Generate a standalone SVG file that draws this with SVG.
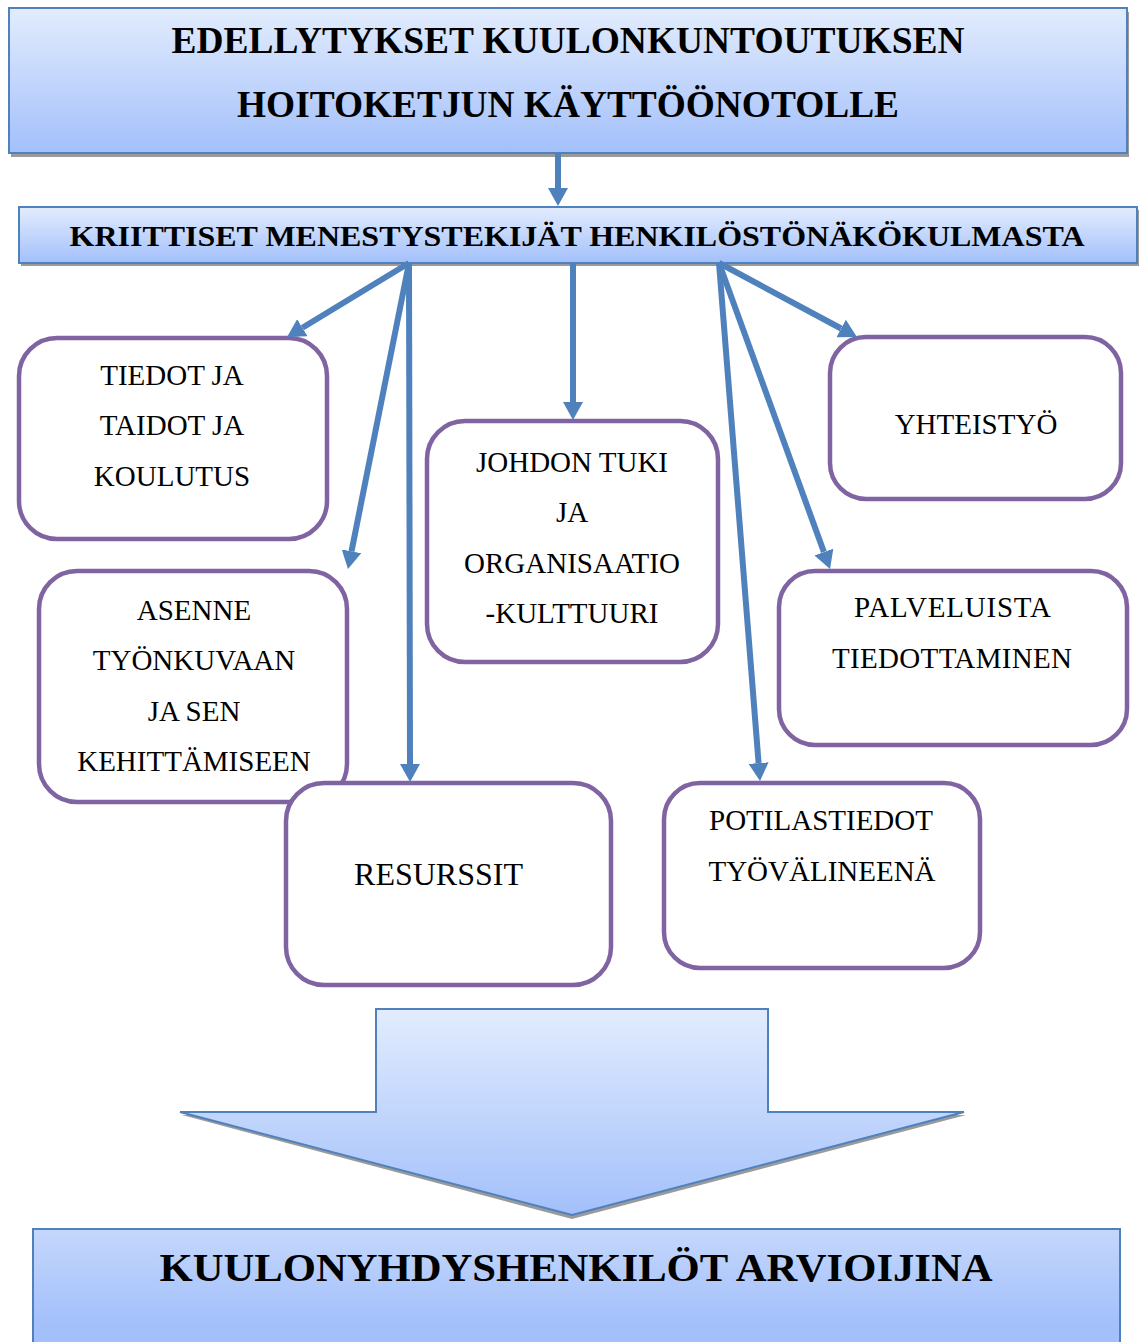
<svg xmlns="http://www.w3.org/2000/svg" width="1139" height="1342" viewBox="0 0 1139 1342">
<defs>
<linearGradient id="gb" x1="0" y1="0" x2="0" y2="1">
<stop offset="0" stop-color="#e2ecfd"/>
<stop offset="1" stop-color="#a3c0fb"/>
</linearGradient>
<linearGradient id="gbot" x1="0" y1="0" x2="0" y2="1">
<stop offset="0" stop-color="#c4d7fc"/>
<stop offset="0.6" stop-color="#a3c0fb"/>
<stop offset="1" stop-color="#a3c0fb"/>
</linearGradient>
<marker id="ah" viewBox="0 -10 18 20" markerWidth="18" markerHeight="20" refX="0" refY="0" orient="auto" markerUnits="userSpaceOnUse">
<path d="M0,-10 L18,0 L0,10 z" fill="#4f81bd"/>
</marker>
<style>
.hdr{fill:url(#gb);stroke:#4f81bd;stroke-width:2}
.shadow{fill:#9a9a9a}
.node{fill:#ffffff;stroke:#8064a2;stroke-width:4.5}
.ht{font-family:"Liberation Serif","Times New Roman",serif;font-weight:bold;fill:#000;text-anchor:middle}
.nt{font-family:"Liberation Serif","Times New Roman",serif;font-size:29px;fill:#000;text-anchor:middle}
.big{font-size:32px}
.con{fill:none;stroke:#4f81bd;stroke-width:6;marker-end:url(#ah)}
</style>
</defs>
<rect width="1139" height="1342" fill="#ffffff"/>

<g id="title">
<rect class="shadow" x="11" y="12" width="1118" height="145"/>
<rect class="hdr" x="9" y="8" width="1118" height="145"/>
<text class="ht" x="568" y="53" font-size="38" textLength="793" lengthAdjust="spacingAndGlyphs">EDELLYTYKSET KUULONKUNTOUTUKSEN</text>
<text class="ht" x="568" y="117" font-size="38" textLength="662" lengthAdjust="spacingAndGlyphs">HOITOKETJUN KÄYTTÖÖNOTOLLE</text>
</g>

<g id="critical">
<rect class="shadow" x="21" y="210" width="1118" height="56"/>
<rect class="hdr" x="19" y="207" width="1118" height="56"/>
<text class="ht" x="577" y="246" font-size="29" textLength="1015" lengthAdjust="spacingAndGlyphs">KRIITTISET MENESTYSTEKIJÄT HENKILÖSTÖNÄKÖKULMASTA</text>
</g>

<g id="n-tiedot">
<rect class="node" x="19" y="338" width="308" height="201" rx="38"/>
<text class="nt" x="172" y="385">TIEDOT JA</text>
<text class="nt" x="172" y="435">TAIDOT JA</text>
<text class="nt" x="172" y="486">KOULUTUS</text>
</g>

<g id="n-asenne">
<rect class="node" x="39" y="571" width="308" height="231" rx="38"/>
<text class="nt" x="194" y="620">ASENNE</text>
<text class="nt" x="194" y="670">TYÖNKUVAAN</text>
<text class="nt" x="194" y="721">JA SEN</text>
<text class="nt" x="194" y="771">KEHITTÄMISEEN</text>
</g>

<g id="n-resurssit">
<rect class="node" x="286" y="783" width="325" height="202" rx="38"/>
<text class="nt big" x="438.5" y="885">RESURSSIT</text>
</g>

<g id="n-johdon">
<rect class="node" x="427" y="421" width="291" height="241" rx="38"/>
<text class="nt" x="572" y="472">JOHDON TUKI</text>
<text class="nt" x="572" y="522">JA</text>
<text class="nt" x="572" y="573">ORGANISAATIO</text>
<text class="nt" x="572" y="623">-KULTTUURI</text>
</g>

<g id="n-yhteistyo">
<rect class="node" x="830" y="337" width="291" height="162" rx="36"/>
<text class="nt" x="976" y="434">YHTEISTYÖ</text>
</g>

<g id="n-palveluista">
<rect class="node" x="779" y="571" width="348" height="174" rx="36"/>
<text class="nt" x="952.5" y="617" textLength="197">PALVELUISTA</text>
<text class="nt" x="952" y="668" textLength="240">TIEDOTTAMINEN</text>
</g>

<g id="n-potilas">
<rect class="node" x="664" y="783" width="316" height="185" rx="36"/>
<text class="nt" x="821" y="830">POTILASTIEDOT</text>
<text class="nt" x="822" y="881">TYÖVÄLINEENÄ</text>
</g>

<g id="connectors">
<path class="con" d="M558,153 L558,188"/>
<path class="con" d="M409,263 L302.4,327.7"/>
<path class="con" d="M409,263 L351.5,551.3"/>
<path class="con" d="M409,263 L410,764"/>
<path class="con" d="M573,263 L573,402"/>
<path class="con" d="M719,263 L841.1,328.5"/>
<path class="con" d="M719,263 L823.9,552.1"/>
<path class="con" d="M719,263 L758.6,763.1"/>
</g>

<g id="big-arrow">
<polygon points="376,1012 768,1012 768,1115 966,1115 572,1219 182,1115 376,1115" fill="#9a9a9a"/>
<polygon points="376,1009 768,1009 768,1112 964,1112 572,1215 180,1112 376,1112" fill="url(#gb)" stroke="#4f81bd" stroke-width="2"/>
</g>

<g id="result">
<rect x="33" y="1229" width="1087" height="160" fill="url(#gbot)" stroke="#4f81bd" stroke-width="2"/>
<text class="ht" x="576" y="1281" font-size="40" textLength="833" lengthAdjust="spacingAndGlyphs">KUULONYHDYSHENKILÖT ARVIOIJINA</text>
</g>
</svg>
